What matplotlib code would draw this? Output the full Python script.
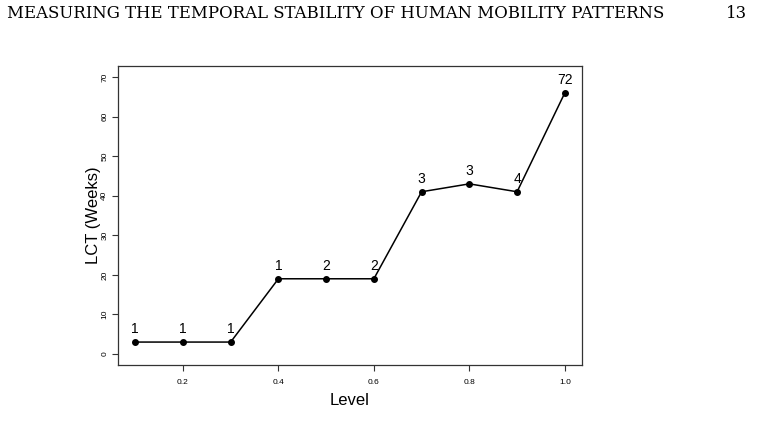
import matplotlib
matplotlib.use("Agg")
import matplotlib.pyplot as plt

levels = [0.1, 0.2, 0.3, 0.4, 0.5, 0.6, 0.7, 0.8, 0.9, 1.0]
lct_weeks = [3, 3, 3, 19, 19, 19, 41, 43, 41, 66]
point_labels = ["1", "1", "1", "1", "2", "2", "3", "3", "4", "72"]
x_ticks = [0.2, 0.4, 0.6, 0.8, 1.0]
x_tick_labels = ["0.2", "0.4", "0.6", "0.8", "1.0"]
y_ticks = [0, 10, 20, 30, 40, 50, 60, 70]
y_tick_labels = ["0", "10", "20", "30", "40", "50", "60", "70"]
header_text = "MEASURING THE TEMPORAL STABILITY OF HUMAN MOBILITY PATTERNS"
page_number = "13"

plt.rcParams['font.family'] = ['Liberation Sans', 'DejaVu Sans']

W, H = 757, 437
fig = plt.figure(figsize=(W / 100, H / 100), dpi=100)
ax = fig.add_axes([118 / W, 1 - 365 / H, (582 - 118) / W, (365 - 66) / H])

ax.plot(levels, lct_weeks, color='black', lw=1.1, marker='o', markersize=4,
        markerfacecolor='black', markeredgecolor='black')
for x, y, t in zip(levels, lct_weeks, point_labels):
    ax.annotate(t, (x, y), xytext=(0, 4.5), textcoords='offset points',
                ha='center', va='bottom', fontsize=10)

ax.set_xlim(0.064, 1.036)
ax.set_ylim(-2.8, 72.8)
ax.set_xticks(x_ticks)
ax.set_xticklabels(x_tick_labels, fontsize=6)
ax.set_yticks(y_ticks)
ax.set_yticklabels(y_tick_labels, fontsize=6, rotation=90, va='center')
ax.tick_params(axis='x', length=4, width=0.8, color='#333333', pad=6)
ax.tick_params(axis='y', length=4, width=0.8, color='#333333', pad=3)
for s in ax.spines.values():
    s.set_linewidth(0.9)
    s.set_color('#333333')

ax.set_xlabel("Level", fontsize=12, labelpad=5)
ax.set_ylabel("LCT (Weeks)", fontsize=12, labelpad=0)

fig.text(7 / W, 1 - 13 / H, header_text, family='DejaVu Serif', fontsize=11.9,
         ha='left', va='center')
fig.text(747 / W, 1 - 13 / H, page_number, family='DejaVu Serif', fontsize=11.9,
         ha='right', va='center')

fig.savefig("out.png", dpi=100)
